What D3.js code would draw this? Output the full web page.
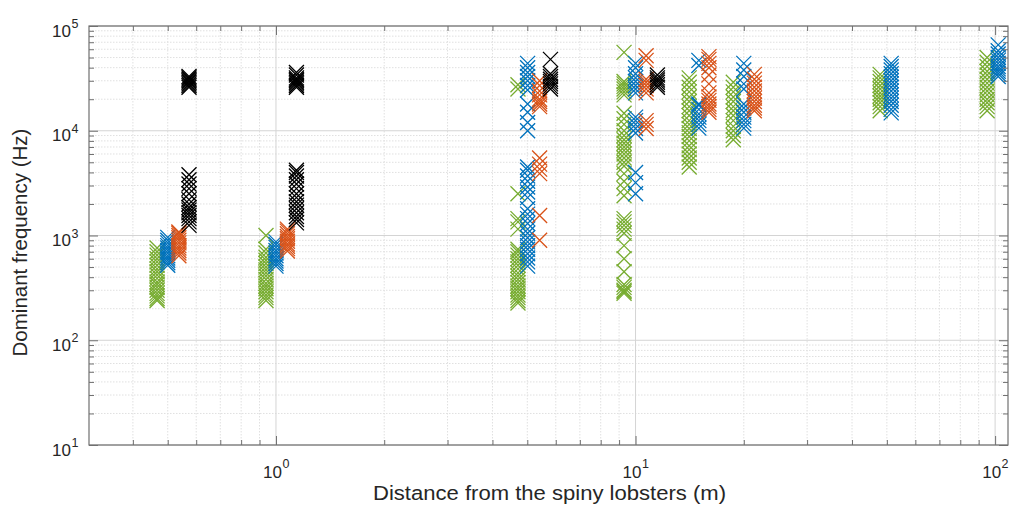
<!DOCTYPE html>
<html><head><meta charset="utf-8">
<script src="https://cdn.jsdelivr.net/npm/d3@7"></script>
<style>
html,body{margin:0;padding:0;background:#fff;}
svg{display:block;font-family:"Liberation Sans",Arial,sans-serif;}
</style></head>
<body><svg id="chart" width="1011" height="506"></svg>
<script>
// ---- data (distance in m, dominant frequency in Hz) ----
const xMajorTicks = [1, 10, 100];
const yMajorTicks = [10, 100, 1000, 10000, 100000];
const xLabel = "Distance from the spiny lobsters (m)";
const yLabel = "Dominant frequency (Hz)";

const greenDist = [0.467, 0.938, 4.71, 9.29, 14.1, 18.7, 47.9, 95];
const greenFreq = [
  [240, 250, 265, 280, 300, 320, 340, 360, 390, 420, 450, 480, 520, 560, 600, 650, 700, 760],
  [240, 255, 270, 290, 310, 330, 350, 380, 410, 440, 470, 500, 540, 580, 620, 680, 740, 1000],
  [227, 240, 255, 270, 290, 310, 330, 355, 380, 410, 440, 480, 520, 560, 600, 650, 700, 740, 1150, 1350, 1450, 2500, 25000, 27500],
  [280, 290, 300, 320, 340, 450, 600, 800, 1050, 1150, 1250, 1350, 1450,
   2400, 2800, 3300, 3900, 4600, 5000, 5500, 6000, 6500, 7000, 7600, 8200, 9000, 10000, 11500, 13000, 14700,
   22000, 23500, 25000, 26500, 28000, 29500, 56000],
  [4500, 5000, 5500, 6000, 6600, 7200, 8000, 8800, 9600, 10500, 11500, 12500, 14000, 15500, 17000, 19000, 21000, 23500, 26000, 29000, 32000],
  [8200, 9000, 10000, 11000, 12500, 14000, 15500, 17000, 19000, 21000, 23500, 26000, 29000],
  [15500, 17000, 18500, 20000, 21500, 23000, 25000, 27000, 29500, 32000, 34500],
  [15500, 17000, 18500, 20000, 22000, 24000, 26000, 28500, 31000, 34000, 37000, 41000, 45000, 50000]
];

const blueDist = [0.50, 1.0, 5.01, 10.0, 15.0, 20.0, 51.4, 102];
const blueFreq = [
  [520, 550, 580, 610, 640, 680, 720, 760, 800, 850, 900, 960],
  [510, 540, 570, 600, 640, 680, 720, 770, 820, 870],
  [510, 560, 610, 670, 740, 800, 870, 950, 1050, 1150, 1300, 1450, 1600, 1800, 2300, 2600, 2900, 3300, 3700, 4200, 4500,
   10000, 12000, 15000, 18000, 24500, 27000, 30000, 33000, 36000, 40000, 44000],
  [2500, 3200, 4000, 9500, 10500, 11500, 12500, 13500, 23000, 25000, 27000, 29500, 32000, 35000, 40000, 44000],
  [10600, 11500, 12500, 13500, 14500, 16000, 17500, 18000, 42000, 47000],
  [10600, 11500, 12500, 13500, 15000, 16500, 18000, 25000, 28000, 33000, 38000, 44000],
  [14800, 16000, 17500, 19000, 20500, 22000, 24000, 26000, 28000, 30000, 32500, 35000, 38000, 41000, 44000],
  [33000, 35000, 37000, 39000, 41000, 44000, 47000, 50000, 54000, 58000, 66000]
];

const orangeDist = [0.537, 1.076, 5.41, 10.7, 16.0, 21.4];
const orangeFreq = [
  [640, 680, 720, 760, 800, 850, 900, 950, 1000, 1050, 1080],
  [710, 750, 790, 830, 880, 930, 980, 1040, 1100, 1150],
  [900, 1550, 3900, 4300, 4800, 5500, 17000, 18000, 19000, 20000, 22000, 24000, 27000, 30000],
  [10500, 11500, 12500, 23000, 25000, 27000, 29000, 31000, 47000, 52000],
  [15000, 16000, 17000, 18000, 19500, 21000, 23000, 28000, 34000, 40000, 44000, 48000, 51000],
  [15500, 16500, 17500, 19000, 20500, 22000, 24000, 26000, 28500, 31000, 34500]
];

const blackDist = [0.573, 1.14, 5.8, 11.5];
const blackFreq = [
  [1250, 1350, 1450, 1550, 1650, 1750, 1850, 2000, 2200, 2500, 2800, 3100, 3400, 3800,
   26000, 27000, 28000, 29000, 30000, 31000, 32000, 33000],
  [1320, 1420, 1520, 1650, 1800, 1950, 2100, 2300, 2500, 2800, 3100, 3400, 3700, 4000, 4200,
   26000, 27000, 28000, 29000, 30000, 31000, 32000, 34000, 36000],
  [25000, 26500, 28000, 29500, 31000, 33000, 35000, 48000],
  [26000, 27500, 29000, 30500, 32000, 34000]
];

const seriesColors = ["#77AC30", "#0072BD", "#D95319", "#000000"];

// ---- layout ----
const svg = d3.select("#chart");
const L = 89, R = 1008, T = 26, B = 445;
const x = d3.scaleLog().domain([0.302, 108.6]).range([L, R]);
const y = d3.scaleLog().domain([10, 100000]).range([B, T]);

const xMinor = [];
for (const dec of [0.1, 1, 10]) for (let k = 2; k <= 9; k++) { const v = k * dec; if (v > 0.302 && v < 108.6) xMinor.push(v); }
const yMinor = [];
for (const dec of [10, 100, 1000, 10000]) for (let k = 2; k <= 9; k++) yMinor.push(k * dec);

// grid
const grid = svg.append("g");
grid.selectAll(".xm").data(xMinor).join("line")
  .attr("x1", d => x(d)).attr("x2", d => x(d)).attr("y1", T).attr("y2", B)
  .attr("stroke", "#e0e0e0").attr("stroke-width", 1).attr("stroke-dasharray", "1.5,1.5");
grid.selectAll(".ym").data(yMinor).join("line")
  .attr("x1", L).attr("x2", R).attr("y1", d => y(d)).attr("y2", d => y(d))
  .attr("stroke", "#e0e0e0").attr("stroke-width", 1).attr("stroke-dasharray", "1.5,1.5");
grid.selectAll(".xM").data(xMajorTicks).join("line")
  .attr("x1", d => x(d)).attr("x2", d => x(d)).attr("y1", T).attr("y2", B)
  .attr("stroke", "#d4d4d4").attr("stroke-width", 1);
grid.selectAll(".yM").data(yMajorTicks).join("line")
  .attr("x1", L).attr("x2", R).attr("y1", d => y(d)).attr("y2", d => y(d))
  .attr("stroke", "#d4d4d4").attr("stroke-width", 1);

// markers
const marker = "M-7.5,-7.5L7.5,7.5M-7.5,7.5L7.5,-7.5";
const allDist = [greenDist, blueDist, orangeDist, blackDist];
const allFreq = [greenFreq, blueFreq, orangeFreq, blackFreq];
allDist.forEach((dists, si) => {
  const pts = [];
  dists.forEach((dv, i) => allFreq[si][i].forEach(f => pts.push({d: dv, f: f})));
  svg.append("g").selectAll("path").data(pts).join("path")
    .attr("d", marker)
    .attr("transform", p => `translate(${x(p.d)},${y(p.f)})`)
    .attr("fill", "none").attr("stroke", seriesColors[si]).attr("stroke-width", 1.3);
});

// axes (ticks inside, box)
const axisColor = "#707070";
function styleAxis(g) {
  g.select(".domain").remove();
  g.selectAll("line").attr("stroke", axisColor);
  g.selectAll("text").remove();
}
svg.append("g").attr("transform", `translate(0,${B})`).call(d3.axisBottom(x).tickValues(xMajorTicks).tickSize(-9)).call(styleAxis);
svg.append("g").attr("transform", `translate(0,${B})`).call(d3.axisBottom(x).tickValues(xMinor).tickSize(-5)).call(styleAxis);
svg.append("g").attr("transform", `translate(0,${T})`).call(d3.axisTop(x).tickValues(xMajorTicks).tickSize(-9)).call(styleAxis);
svg.append("g").attr("transform", `translate(0,${T})`).call(d3.axisTop(x).tickValues(xMinor).tickSize(-5)).call(styleAxis);
svg.append("g").attr("transform", `translate(${L},0)`).call(d3.axisLeft(y).tickValues(yMajorTicks).tickSize(-9)).call(styleAxis);
svg.append("g").attr("transform", `translate(${L},0)`).call(d3.axisLeft(y).tickValues(yMinor).tickSize(-5)).call(styleAxis);
svg.append("g").attr("transform", `translate(${R},0)`).call(d3.axisRight(y).tickValues(yMajorTicks).tickSize(-9)).call(styleAxis);
svg.append("g").attr("transform", `translate(${R},0)`).call(d3.axisRight(y).tickValues(yMinor).tickSize(-5)).call(styleAxis);
svg.append("rect").attr("x", L).attr("y", T).attr("width", R - L).attr("height", B - T)
  .attr("fill", "none").attr("stroke", axisColor).attr("stroke-width", 1.2);

// tick labels
const textColor = "#262626";
const yl = svg.append("g").attr("fill", textColor);
yMajorTicks.forEach(v => {
  const e = Math.round(Math.log10(v));
  yl.append("text").attr("x", 71).attr("y", y(v) + 10.5).attr("text-anchor", "end").attr("font-size", 17).text("10");
  yl.append("text").attr("x", 71.5).attr("y", y(v) + 2).attr("font-size", 12.5).text(e);
});
const xl = svg.append("g").attr("fill", textColor);
xMajorTicks.forEach(v => {
  const e = Math.round(Math.log10(v));
  xl.append("text").attr("x", x(v) + 6).attr("y", 477.5).attr("text-anchor", "end").attr("font-size", 17).text("10");
  xl.append("text").attr("x", x(v) + 6.5).attr("y", 468).attr("font-size", 12.5).text(e);
});

// axis titles
svg.append("text").attr("x", (L + R) / 2 + 1).attr("y", 500).attr("text-anchor", "middle")
  .attr("font-size", 20.5).attr("fill", textColor)
  .attr("textLength", 353).attr("lengthAdjust", "spacingAndGlyphs").text(xLabel);
svg.append("text").attr("transform", `translate(27,${(T + B) / 2 + 7}) rotate(-90)`).attr("text-anchor", "middle")
  .attr("font-size", 20.5).attr("fill", textColor).text(yLabel);
</script>
</body></html>
